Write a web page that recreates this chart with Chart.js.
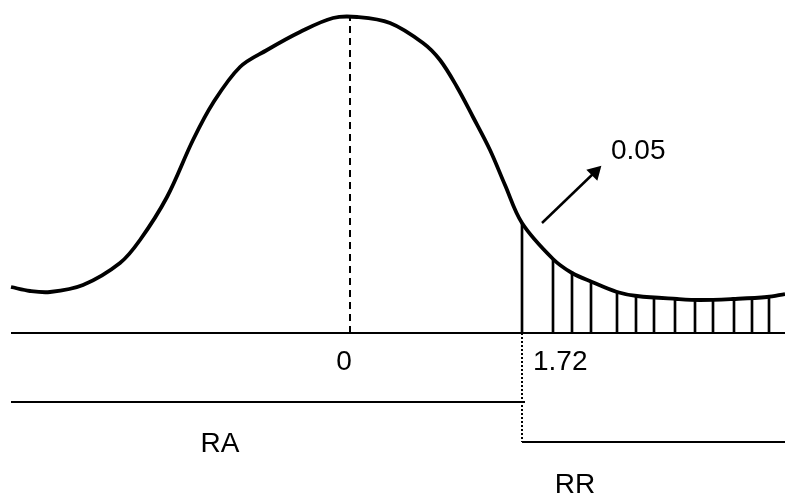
<!DOCTYPE html>
<html>
<head>
<meta charset="utf-8">
<script src="https://cdn.jsdelivr.net/npm/chart.js@4.4.1/dist/chart.umd.min.js"></script>
<style>
html,body{margin:0;padding:0;background:#fff;}
#wrap{width:785px;height:497px;position:relative;}
</style>
</head>
<body>
<div id="wrap"><canvas id="c"></canvas></div>
<script>
// Distribution curve (z value, density height)
const curveX = [-3.39,-3.2,-3.0,-2.67,-2.3,-2.1,-1.83,-1.57,-1.37,-1.1,-0.83,-0.5,-0.17,0.07,0.4,0.73,0.9,1.07,1.23,1.4,1.55,1.72,2.03,2.22,2.42,2.67,2.87,3.27,3.5,3.83,4.17,4.35];
const curveY = [0.46,0.42,0.41,0.48,0.70,0.93,1.36,1.93,2.30,2.66,2.83,3.01,3.15,3.16,3.10,2.90,2.73,2.46,2.16,1.83,1.48,1.10,0.74,0.60,0.51,0.41,0.37,0.34,0.33,0.34,0.36,0.39];
// Rejection-region hatching (z position, height up to the curve)
const hatchX = [1.72,2.03,2.22,2.41,2.67,2.86,3.04,3.25,3.45,3.63,3.84,4.02,4.19];
const hatchY = [1.10,0.73,0.61,0.51,0.42,0.38,0.36,0.34,0.33,0.33,0.34,0.35,0.36];
// Key values
const meanValue = 0;
const criticalValue = 1.72;
const alphaLabel = "0.05";
const regionLabels = ["RA", "RR"];
const xRange = [-3.39, 4.35];
const peakY = 3.16;

const curveData = curveX.map((x,i)=>({x:x,y:curveY[i]}));
const hatchData = hatchX.map((x,i)=>({x:x,y:hatchY[i]}));

const raY = -0.69, rrY = -1.09;
const black = '#000';

const datasets = [
  {type:'line', data:curveData, borderColor:black, borderWidth:3.8, pointRadius:0, tension:0.35, fill:false},
  {type:'bar', data:hatchData, backgroundColor:black, barThickness:2, borderWidth:0},
  {type:'line', data:[{x:xRange[0],y:0},{x:xRange[1],y:0}], borderColor:black, borderWidth:2, pointRadius:0},
  {type:'line', data:[{x:meanValue,y:0},{x:meanValue,y:peakY}], borderColor:black, borderWidth:2, borderDash:[7,5], pointRadius:0},
  {type:'line', data:[{x:criticalValue,y:0},{x:criticalValue,y:rrY}], borderColor:black, borderWidth:2, borderDash:[2,2], pointRadius:0},
  {type:'line', data:[{x:xRange[0],y:raY},{x:criticalValue+0.03,y:raY}], borderColor:black, borderWidth:2, pointRadius:0},
  {type:'line', data:[{x:criticalValue,y:rrY},{x:xRange[1],y:rrY}], borderColor:black, borderWidth:2, pointRadius:0},
  {type:'line', data:[{x:1.92,y:1.10},{x:2.45,y:1.61}], borderColor:black, borderWidth:2.5,
    pointRadius:[0,9], pointStyle:'triangle', pointRotation:45, pointBackgroundColor:black, pointBorderColor:black, pointBorderWidth:0}
];

const textPlugin = {
  id:'texts',
  afterDatasetsDraw(chart){
    const ctx = chart.ctx, xs = chart.scales.x, ys = chart.scales.y;
    ctx.save();
    ctx.fillStyle = black;
    ctx.font = '28px "Liberation Sans", Arial, sans-serif';
    ctx.textBaseline = 'middle';
    ctx.textAlign = 'center';
    ctx.fillText(String(meanValue), xs.getPixelForValue(meanValue) - 6, ys.getPixelForValue(0) + 29);
    ctx.textAlign = 'left';
    ctx.fillText(criticalValue.toFixed(2), xs.getPixelForValue(criticalValue) + 11, ys.getPixelForValue(0) + 29);
    ctx.fillText(alphaLabel, xs.getPixelForValue(2.61), ys.getPixelForValue(1.82));
    ctx.textAlign = 'center';
    ctx.fillText(regionLabels[0], xs.getPixelForValue(-1.3), ys.getPixelForValue(raY) + 42);
    ctx.fillText(regionLabels[1], xs.getPixelForValue(2.25), ys.getPixelForValue(rrY) + 43);
    ctx.restore();
  }
};

new Chart(document.getElementById('c'), {
  type:'bar',
  data:{datasets:datasets},
  options:{
    responsive:true, maintainAspectRatio:false, animation:false,
    layout:{padding:0, autoPadding:false},
    plugins:{legend:{display:false}, tooltip:{enabled:false}},
    scales:{
      x:{type:'linear', min:-3.5, max:4.35, display:false, offset:false},
      y:{type:'linear', min:-1.64, max:3.33, display:false}
    }
  },
  plugins:[textPlugin]
});
</script>
</body>
</html>
